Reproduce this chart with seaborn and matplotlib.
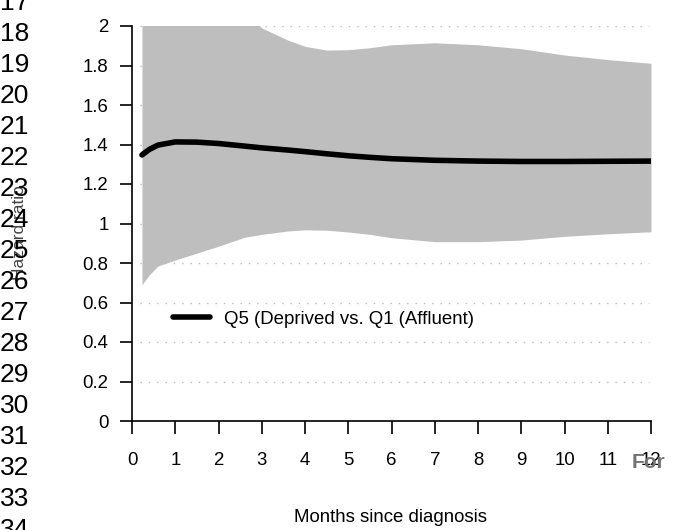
import matplotlib
matplotlib.use("Agg")
import matplotlib.pyplot as plt
import seaborn as sns
import numpy as np
import pandas as pd

# ---- data ----
months = [0.23, 0.4, 0.6, 1, 1.5, 2, 2.6, 3, 3.6, 4, 4.5, 5, 5.5, 6, 7, 8, 9, 10, 11, 12]
hazard_ratio = [1.347, 1.375, 1.397, 1.413, 1.412, 1.405, 1.392, 1.383, 1.372, 1.364,
                1.353, 1.343, 1.335, 1.328, 1.320, 1.316, 1.314, 1.314, 1.315, 1.316]
ci_lower = [0.69, 0.74, 0.785, 0.815, 0.85, 0.885, 0.93, 0.945, 0.962, 0.968,
            0.966, 0.957, 0.945, 0.928, 0.908, 0.908, 0.916, 0.935, 0.948, 0.958]
ci_upper = [2.70, 2.65, 2.60, 2.50, 2.40, 2.25, 2.08, 1.99, 1.929, 1.897,
            1.878, 1.880, 1.890, 1.905, 1.915, 1.905, 1.885, 1.853, 1.830, 1.811]
series_label = "Q5 (Deprived vs. Q1 (Affluent)"
x_ticks = list(range(0, 13))
y_ticks = [0, 0.2, 0.4, 0.6, 0.8, 1, 1.2, 1.4, 1.6, 1.8, 2]
line_numbers = list(range(17, 35))

df = pd.DataFrame({"month": months, "hr": hazard_ratio, "lo": ci_lower, "hi": ci_upper})

sns.set_style("white")
plt.rcParams["font.family"] = ["Liberation Sans", "DejaVu Sans"]

FS = 13.4
W, H = 674, 530
fig = plt.figure(figsize=(W / 100, H / 100), dpi=100)
ax = fig.add_axes([132 / W, 1 - 421 / H, 519 / W, 395 / H])

# dotted reference grid
ax.hlines(y_ticks[1:], 0.18, 11.95, colors="#BBBBBB", linestyles=(0, (1, 5)), lw=1.0, zorder=0)

# confidence band
ax.fill_between(df["month"], df["lo"], df["hi"], color="#BEBEBE", lw=0, zorder=1)

# hazard ratio line
sns.lineplot(data=df, x="month", y="hr", color="black", lw=4.0, ax=ax,
             label=series_label, zorder=3, solid_capstyle="round")

ax.set_xlim(0, 12)
ax.set_ylim(0, 2)
ax.set_xticks(x_ticks)
ax.set_xticklabels([str(t) for t in x_ticks])
ax.set_yticks(y_ticks)
ax.set_yticklabels([f"{t:g}" for t in y_ticks])

for s in ["top", "right"]:
    ax.spines[s].set_visible(False)
for s in ["left", "bottom"]:
    ax.spines[s].set_color("black")
    ax.spines[s].set_linewidth(1.2)
ax.spines["left"].set_bounds(0, 2)
ax.spines["bottom"].set_bounds(0, 12)

ax.tick_params(axis="both", direction="out", length=9, width=1.2, color="black",
               labelsize=FS, labelcolor="black", left=True, bottom=True)
ax.tick_params(axis="x", pad=13)
ax.tick_params(axis="y", pad=8)

ax.set_xlabel("Months since diagnosis", fontsize=FS, color="black")
ax.xaxis.set_label_coords((391 - 132) / 519, (421 - 517) / 395)
ax.xaxis.label.set_va("center")
ax.set_ylabel("Hazard ratio", fontsize=12.5, color="#444444")
ax.yaxis.set_label_coords((20 - 132) / 519, (421 - 233) / 395)
ax.yaxis.label.set_va("center")

leg = ax.legend(loc="center left", bbox_to_anchor=((173 - 132) / 519, (421 - 319) / 395),
                frameon=False, fontsize=FS, handlelength=2.0, handletextpad=0.75,
                borderaxespad=0, borderpad=0)
for t in leg.get_texts():
    t.set_color("black")

# page line numbers from the source document
for n in line_numbers:
    y = 3 + 31 * (n - 17)
    fig.text(0.0, 1 - y / H, str(n), fontsize=19, ha="left", va="center", color="black")

fig.text(632 / W, 1 - 463 / H, "For", fontsize=15, fontweight="bold",
         color="#737373", ha="left", va="center")

fig.savefig("out.png", dpi=100)
